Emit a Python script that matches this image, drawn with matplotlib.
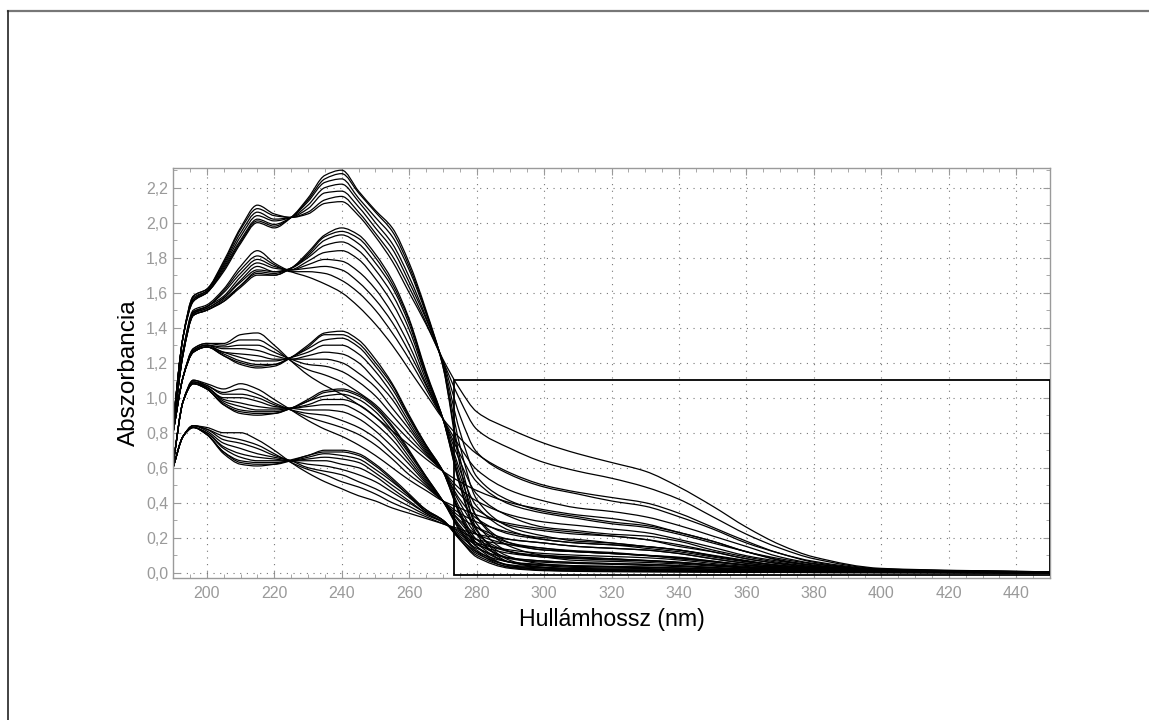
import matplotlib
matplotlib.use("Agg")
import matplotlib.pyplot as plt
from matplotlib.patches import Rectangle, PathPatch
from matplotlib.path import Path
from matplotlib.ticker import MultipleLocator, FuncFormatter

plt.rcParams["font.family"] = ["Liberation Sans", "DejaVu Sans"]

# wavelength grid (nm)
wl = [190, 193, 196, 200, 205, 210, 215, 220, 225, 230, 235, 240, 245, 250, 255, 260,
      265, 270, 275, 280, 290, 300, 310, 320, 330, 340, 350, 360, 370, 380, 400, 450]

# group A (highest concentration)
grp_a = [
    [0.85, 1.35, 1.55, 1.60, 1.72, 1.88, 2.00, 1.97, 2.03, 2.14, 2.27, 2.30, 2.18, 2.07, 1.97, 1.77, 1.50, 1.18, 0.62, 0.25, 0.07, 0.03, 0.02, 0.015, 0.012, 0.01, 0.008, 0.006, 0.005, 0.004, 0.003, 0.002],
    [0.85, 1.35, 1.55, 1.60, 1.73, 1.89, 2.01, 1.98, 2.03, 2.13, 2.25, 2.28, 2.17, 2.06, 1.95, 1.75, 1.49, 1.18, 0.66, 0.32, 0.15, 0.10, 0.09, 0.08, 0.07, 0.06, 0.045, 0.03, 0.02, 0.01, 0.005, 0.002],
    [0.85, 1.35, 1.56, 1.60, 1.74, 1.90, 2.02, 1.99, 2.03, 2.12, 2.23, 2.25, 2.14, 2.03, 1.92, 1.73, 1.48, 1.19, 0.73, 0.42, 0.26, 0.21, 0.18, 0.17, 0.15, 0.13, 0.10, 0.07, 0.04, 0.03, 0.01, 0.003],
    [0.85, 1.35, 1.56, 1.61, 1.75, 1.92, 2.04, 2.01, 2.03, 2.10, 2.20, 2.22, 2.12, 2.00, 1.88, 1.69, 1.46, 1.20, 0.81, 0.55, 0.41, 0.35, 0.32, 0.29, 0.27, 0.23, 0.18, 0.12, 0.07, 0.04, 0.013, 0.003],
    [0.85, 1.35, 1.57, 1.61, 1.76, 1.94, 2.06, 2.02, 2.03, 2.08, 2.17, 2.18, 2.09, 1.97, 1.85, 1.66, 1.45, 1.21, 0.90, 0.69, 0.56, 0.49, 0.45, 0.41, 0.38, 0.32, 0.25, 0.17, 0.11, 0.06, 0.017, 0.004],
    [0.85, 1.35, 1.58, 1.62, 1.77, 1.96, 2.08, 2.04, 2.03, 2.06, 2.13, 2.15, 2.06, 1.94, 1.81, 1.63, 1.43, 1.21, 0.99, 0.82, 0.71, 0.63, 0.58, 0.54, 0.49, 0.42, 0.32, 0.22, 0.14, 0.08, 0.022, 0.005],
    [0.85, 1.35, 1.58, 1.62, 1.78, 1.97, 2.10, 2.05, 2.03, 2.05, 2.11, 2.12, 2.04, 1.92, 1.78, 1.60, 1.42, 1.22, 1.05, 0.92, 0.82, 0.74, 0.68, 0.63, 0.58, 0.49, 0.38, 0.26, 0.16, 0.09, 0.025, 0.005],
]

# group B
grp_b = [
    [0.82, 1.25, 1.47, 1.50, 1.55, 1.63, 1.70, 1.70, 1.74, 1.83, 1.93, 1.97, 1.93, 1.82, 1.67, 1.45, 1.15, 0.88, 0.50, 0.22, 0.06, 0.03, 0.02, 0.015, 0.012, 0.01, 0.008, 0.006, 0.005, 0.004, 0.003, 0.002],
    [0.82, 1.25, 1.47, 1.50, 1.55, 1.64, 1.71, 1.70, 1.74, 1.82, 1.92, 1.95, 1.91, 1.80, 1.65, 1.44, 1.14, 0.88, 0.51, 0.24, 0.09, 0.05, 0.04, 0.036, 0.031, 0.027, 0.021, 0.015, 0.01, 0.007, 0.004, 0.002],
    [0.82, 1.25, 1.47, 1.50, 1.56, 1.64, 1.72, 1.71, 1.74, 1.81, 1.90, 1.93, 1.88, 1.77, 1.63, 1.42, 1.13, 0.88, 0.53, 0.28, 0.12, 0.09, 0.07, 0.065, 0.059, 0.05, 0.038, 0.027, 0.018, 0.011, 0.005, 0.002],
    [0.82, 1.25, 1.48, 1.51, 1.57, 1.66, 1.73, 1.72, 1.74, 1.80, 1.87, 1.89, 1.84, 1.73, 1.59, 1.39, 1.12, 0.88, 0.56, 0.32, 0.17, 0.13, 0.12, 0.11, 0.10, 0.08, 0.063, 0.044, 0.028, 0.017, 0.007, 0.002],
    [0.82, 1.26, 1.48, 1.51, 1.57, 1.67, 1.75, 1.72, 1.73, 1.78, 1.83, 1.84, 1.79, 1.68, 1.54, 1.35, 1.10, 0.88, 0.59, 0.38, 0.24, 0.19, 0.17, 0.16, 0.15, 0.13, 0.096, 0.067, 0.042, 0.025, 0.009, 0.003],
    [0.82, 1.26, 1.48, 1.52, 1.58, 1.69, 1.77, 1.74, 1.73, 1.76, 1.79, 1.78, 1.72, 1.62, 1.48, 1.30, 1.08, 0.88, 0.64, 0.45, 0.32, 0.26, 0.24, 0.22, 0.21, 0.18, 0.13, 0.09, 0.058, 0.035, 0.012, 0.003],
    [0.82, 1.26, 1.49, 1.52, 1.60, 1.71, 1.79, 1.75, 1.73, 1.74, 1.75, 1.73, 1.66, 1.56, 1.43, 1.26, 1.07, 0.88, 0.68, 0.52, 0.39, 0.34, 0.31, 0.28, 0.26, 0.22, 0.17, 0.12, 0.073, 0.044, 0.014, 0.003],
    [0.82, 1.27, 1.49, 1.52, 1.61, 1.73, 1.81, 1.76, 1.72, 1.72, 1.71, 1.67, 1.60, 1.50, 1.37, 1.22, 1.05, 0.88, 0.72, 0.59, 0.47, 0.41, 0.37, 0.35, 0.32, 0.27, 0.21, 0.15, 0.09, 0.053, 0.017, 0.004],
    [0.82, 1.27, 1.50, 1.53, 1.62, 1.75, 1.84, 1.77, 1.72, 1.69, 1.65, 1.60, 1.52, 1.42, 1.30, 1.16, 1.02, 0.88, 0.77, 0.68, 0.57, 0.50, 0.46, 0.43, 0.40, 0.34, 0.26, 0.18, 0.11, 0.065, 0.02, 0.004],
]

# group C
grp_c = [
    [0.80, 1.12, 1.26, 1.29, 1.24, 1.19, 1.17, 1.18, 1.23, 1.30, 1.37, 1.38, 1.33, 1.22, 1.08, 0.90, 0.73, 0.58, 0.33, 0.15, 0.04, 0.02, 0.015, 0.012, 0.01, 0.008, 0.006, 0.005, 0.004, 0.003, 0.002, 0.001],
    [0.80, 1.12, 1.26, 1.29, 1.24, 1.20, 1.18, 1.19, 1.23, 1.29, 1.36, 1.36, 1.31, 1.20, 1.07, 0.89, 0.73, 0.58, 0.34, 0.17, 0.06, 0.04, 0.03, 0.027, 0.024, 0.019, 0.015, 0.011, 0.008, 0.005, 0.003, 0.001],
    [0.80, 1.12, 1.26, 1.29, 1.25, 1.21, 1.19, 1.19, 1.23, 1.28, 1.33, 1.34, 1.29, 1.18, 1.05, 0.88, 0.72, 0.58, 0.35, 0.19, 0.08, 0.06, 0.053, 0.048, 0.042, 0.035, 0.027, 0.019, 0.013, 0.009, 0.004, 0.001],
    [0.80, 1.12, 1.26, 1.29, 1.26, 1.23, 1.21, 1.21, 1.23, 1.26, 1.30, 1.30, 1.25, 1.15, 1.02, 0.86, 0.71, 0.58, 0.37, 0.22, 0.12, 0.09, 0.084, 0.078, 0.069, 0.057, 0.044, 0.03, 0.021, 0.013, 0.005, 0.001],
    [0.80, 1.12, 1.27, 1.30, 1.26, 1.25, 1.24, 1.22, 1.22, 1.24, 1.26, 1.25, 1.20, 1.10, 0.99, 0.84, 0.70, 0.58, 0.40, 0.26, 0.17, 0.14, 0.125, 0.116, 0.10, 0.086, 0.067, 0.045, 0.031, 0.02, 0.007, 0.002],
    [0.80, 1.12, 1.27, 1.30, 1.28, 1.28, 1.27, 1.24, 1.22, 1.22, 1.22, 1.20, 1.14, 1.06, 0.94, 0.82, 0.69, 0.58, 0.42, 0.31, 0.22, 0.19, 0.17, 0.16, 0.14, 0.12, 0.09, 0.062, 0.042, 0.026, 0.009, 0.002],
    [0.80, 1.12, 1.27, 1.30, 1.29, 1.30, 1.30, 1.26, 1.22, 1.19, 1.18, 1.15, 1.09, 1.01, 0.90, 0.79, 0.68, 0.58, 0.45, 0.36, 0.27, 0.24, 0.22, 0.21, 0.19, 0.15, 0.12, 0.08, 0.053, 0.034, 0.011, 0.002],
    [0.80, 1.12, 1.28, 1.31, 1.30, 1.33, 1.33, 1.28, 1.21, 1.16, 1.13, 1.09, 1.03, 0.96, 0.86, 0.76, 0.67, 0.58, 0.48, 0.41, 0.33, 0.29, 0.27, 0.25, 0.23, 0.19, 0.145, 0.097, 0.065, 0.041, 0.012, 0.003],
    [0.80, 1.12, 1.28, 1.31, 1.31, 1.36, 1.37, 1.30, 1.21, 1.13, 1.07, 1.02, 0.96, 0.89, 0.81, 0.73, 0.65, 0.58, 0.52, 0.47, 0.40, 0.36, 0.33, 0.31, 0.28, 0.23, 0.18, 0.12, 0.08, 0.05, 0.015, 0.003],
]

# group D
grp_d = [
    [0.62, 0.98, 1.08, 1.05, 0.96, 0.91, 0.90, 0.91, 0.94, 0.99, 1.04, 1.05, 1.02, 0.95, 0.84, 0.70, 0.55, 0.41, 0.24, 0.12, 0.03, 0.015, 0.01, 0.008, 0.007, 0.006, 0.005, 0.004, 0.003, 0.002, 0.001, 0.001],
    [0.62, 0.98, 1.08, 1.05, 0.96, 0.92, 0.91, 0.91, 0.94, 0.98, 1.03, 1.04, 1.01, 0.94, 0.83, 0.69, 0.55, 0.41, 0.25, 0.13, 0.04, 0.027, 0.021, 0.018, 0.016, 0.014, 0.011, 0.008, 0.005, 0.003, 0.002, 0.001],
    [0.62, 0.98, 1.08, 1.05, 0.97, 0.93, 0.92, 0.92, 0.94, 0.98, 1.01, 1.02, 0.99, 0.92, 0.81, 0.68, 0.54, 0.41, 0.26, 0.15, 0.06, 0.043, 0.036, 0.032, 0.029, 0.025, 0.019, 0.013, 0.009, 0.005, 0.002, 0.001],
    [0.62, 0.98, 1.08, 1.06, 0.98, 0.95, 0.93, 0.93, 0.94, 0.96, 0.99, 0.99, 0.96, 0.89, 0.79, 0.66, 0.53, 0.41, 0.27, 0.17, 0.085, 0.067, 0.058, 0.052, 0.047, 0.04, 0.03, 0.021, 0.013, 0.008, 0.003, 0.001],
    [0.62, 0.98, 1.09, 1.06, 0.99, 0.97, 0.95, 0.94, 0.94, 0.95, 0.96, 0.96, 0.92, 0.85, 0.76, 0.64, 0.52, 0.41, 0.29, 0.19, 0.12, 0.097, 0.087, 0.079, 0.071, 0.06, 0.045, 0.031, 0.02, 0.012, 0.004, 0.001],
    [0.62, 0.98, 1.09, 1.06, 1.00, 1.00, 0.98, 0.95, 0.94, 0.93, 0.93, 0.92, 0.88, 0.81, 0.72, 0.62, 0.51, 0.41, 0.30, 0.22, 0.16, 0.13, 0.12, 0.11, 0.098, 0.083, 0.062, 0.042, 0.026, 0.016, 0.006, 0.002],
    [0.62, 0.98, 1.09, 1.07, 1.02, 1.02, 1.00, 0.96, 0.93, 0.91, 0.90, 0.87, 0.83, 0.77, 0.68, 0.59, 0.50, 0.41, 0.32, 0.26, 0.19, 0.17, 0.15, 0.14, 0.13, 0.11, 0.08, 0.053, 0.034, 0.02, 0.007, 0.002],
    [0.62, 0.98, 1.10, 1.07, 1.03, 1.05, 1.02, 0.97, 0.93, 0.89, 0.86, 0.83, 0.79, 0.73, 0.65, 0.56, 0.49, 0.41, 0.34, 0.29, 0.23, 0.20, 0.19, 0.17, 0.15, 0.13, 0.097, 0.065, 0.041, 0.024, 0.008, 0.002],
    [0.62, 0.98, 1.10, 1.08, 1.05, 1.08, 1.05, 0.99, 0.93, 0.87, 0.82, 0.78, 0.73, 0.67, 0.60, 0.53, 0.47, 0.41, 0.37, 0.33, 0.28, 0.25, 0.23, 0.21, 0.19, 0.16, 0.12, 0.08, 0.05, 0.03, 0.01, 0.002],
]

# group E (lowest concentration)
grp_e = [
    [0.60, 0.78, 0.83, 0.79, 0.68, 0.62, 0.61, 0.62, 0.645, 0.67, 0.70, 0.70, 0.68, 0.62, 0.54, 0.45, 0.36, 0.30, 0.19, 0.09, 0.025, 0.012, 0.008, 0.006, 0.005, 0.004, 0.003, 0.002, 0.002, 0.001, 0.001, 0.0],
    [0.60, 0.78, 0.83, 0.79, 0.69, 0.63, 0.62, 0.62, 0.64, 0.67, 0.69, 0.69, 0.67, 0.61, 0.53, 0.44, 0.36, 0.30, 0.19, 0.10, 0.033, 0.02, 0.015, 0.013, 0.011, 0.009, 0.007, 0.005, 0.004, 0.002, 0.001, 0.0],
    [0.60, 0.78, 0.83, 0.79, 0.69, 0.64, 0.63, 0.63, 0.64, 0.66, 0.68, 0.67, 0.65, 0.59, 0.52, 0.44, 0.35, 0.30, 0.20, 0.11, 0.045, 0.031, 0.025, 0.022, 0.02, 0.017, 0.012, 0.008, 0.006, 0.003, 0.002, 0.0],
    [0.60, 0.78, 0.83, 0.80, 0.71, 0.66, 0.64, 0.64, 0.64, 0.65, 0.66, 0.65, 0.63, 0.57, 0.50, 0.43, 0.35, 0.30, 0.20, 0.12, 0.061, 0.047, 0.039, 0.036, 0.033, 0.027, 0.02, 0.014, 0.009, 0.005, 0.002, 0.0],
    [0.60, 0.78, 0.83, 0.80, 0.72, 0.68, 0.66, 0.65, 0.64, 0.64, 0.64, 0.62, 0.60, 0.55, 0.48, 0.41, 0.34, 0.29, 0.21, 0.14, 0.083, 0.067, 0.058, 0.053, 0.049, 0.041, 0.03, 0.021, 0.014, 0.008, 0.003, 0.0],
    [0.60, 0.78, 0.84, 0.81, 0.74, 0.71, 0.68, 0.66, 0.64, 0.62, 0.61, 0.59, 0.56, 0.52, 0.46, 0.40, 0.34, 0.29, 0.22, 0.16, 0.11, 0.09, 0.08, 0.073, 0.068, 0.057, 0.042, 0.028, 0.018, 0.01, 0.004, 0.0],
    [0.60, 0.78, 0.84, 0.82, 0.76, 0.74, 0.71, 0.67, 0.64, 0.60, 0.58, 0.56, 0.52, 0.48, 0.43, 0.38, 0.33, 0.29, 0.23, 0.17, 0.13, 0.11, 0.10, 0.093, 0.086, 0.073, 0.053, 0.036, 0.024, 0.013, 0.005, 0.001],
    [0.60, 0.78, 0.84, 0.82, 0.78, 0.76, 0.73, 0.68, 0.63, 0.59, 0.56, 0.52, 0.49, 0.45, 0.40, 0.36, 0.32, 0.28, 0.24, 0.19, 0.16, 0.14, 0.12, 0.11, 0.10, 0.089, 0.065, 0.044, 0.028, 0.016, 0.006, 0.001],
    [0.60, 0.78, 0.84, 0.83, 0.80, 0.80, 0.76, 0.70, 0.63, 0.57, 0.52, 0.48, 0.44, 0.41, 0.37, 0.34, 0.31, 0.28, 0.25, 0.22, 0.19, 0.17, 0.15, 0.14, 0.13, 0.11, 0.08, 0.055, 0.035, 0.02, 0.007, 0.001],
]

# zoom box drawn on the original figure (nm, absorbance)
box_x0, box_x1 = 273.2, 450
box_y0, box_y1 = -0.01, 1.10

GRAY = "#9a9a9a"


def smooth_path(x, y):
    # draw the measured points as a smooth (monotone cubic) bezier path
    n = len(x)
    h = [x[i + 1] - x[i] for i in range(n - 1)]
    d = [(y[i + 1] - y[i]) / h[i] for i in range(n - 1)]
    m = [d[0]] + [0.0] * (n - 2) + [d[-1]]
    for i in range(1, n - 1):
        if d[i - 1] * d[i] > 0:
            w1, w2 = 2 * h[i] + h[i - 1], h[i] + 2 * h[i - 1]
            m[i] = (w1 + w2) / (w1 / d[i - 1] + w2 / d[i])
    verts, codes = [(x[0], y[0])], [Path.MOVETO]
    for i in range(n - 1):
        verts += [(x[i] + h[i] / 3, y[i] + m[i] * h[i] / 3),
                  (x[i + 1] - h[i] / 3, y[i + 1] - m[i + 1] * h[i] / 3),
                  (x[i + 1], y[i + 1])]
        codes += [Path.CURVE4] * 3
    return Path(verts, codes)


fig = plt.figure(figsize=(11.49, 7.2), dpi=100)
ax = fig.add_axes([0.1506, 0.1972, 0.7633, 0.5694])

for grp in (grp_a, grp_b, grp_c, grp_d, grp_e):
    for spec in grp:
        ax.add_patch(PathPatch(smooth_path(wl, spec), fill=False, edgecolor="black",
                               lw=0.9, capstyle="round", joinstyle="round"))

ax.add_patch(Rectangle((box_x0, box_y0), box_x1 - box_x0, box_y1 - box_y0,
                       fill=False, edgecolor="black", lw=1.3, zorder=5))

ax.set_xlim(190, 450)
ax.set_ylim(-0.03, 2.312)
ax.xaxis.set_major_locator(MultipleLocator(20))
ax.xaxis.set_minor_locator(MultipleLocator(5))
ax.yaxis.set_major_locator(MultipleLocator(0.2))
ax.yaxis.set_minor_locator(MultipleLocator(0.1))
ax.yaxis.set_major_formatter(FuncFormatter(lambda v, p: f"{v:.1f}".replace(".", ",")))
ax.tick_params(which="both", direction="in", top=True, right=True, color=GRAY,
               labelcolor=GRAY, labelsize=11.5)
ax.tick_params(which="major", length=5)
ax.tick_params(which="minor", length=3)
ax.tick_params(axis="x", pad=6)
for s in ax.spines.values():
    s.set_color(GRAY)
    s.set_linewidth(1.0)
ax.grid(True, which="major", color="#777777", lw=0.8, ls=(0, (1, 5)))
ax.set_axisbelow(True)

ax.set_xlabel("Hullámhossz (nm)", fontsize=16.7, labelpad=5)
ax.set_ylabel("Abszorbancia", fontsize=17.5, labelpad=4)

# outer frame of the exported picture
fig.add_artist(plt.Line2D([8 / 1149, 1.0], [1 - 11 / 720, 1 - 11 / 720],
                          transform=fig.transFigure, color="#777777", lw=1.6))
fig.add_artist(plt.Line2D([8 / 1149, 8 / 1149], [0.0, 1 - 11 / 720],
                          transform=fig.transFigure, color="#222222", lw=1.2))

fig.savefig("out.png", dpi=100)
